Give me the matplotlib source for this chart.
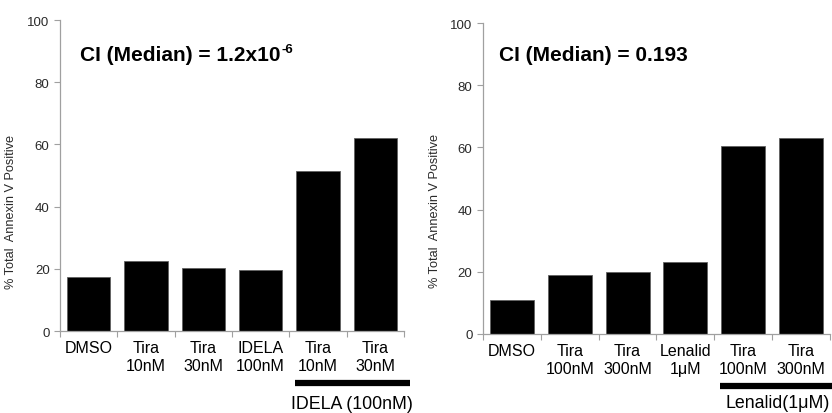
import matplotlib
matplotlib.use("Agg")
import matplotlib.pyplot as plt
import matplotlib.transforms as mtransforms

plt.rcParams["font.family"] = ["Liberation Sans", "DejaVu Sans"]

# Left panel: Tira + IDELA
left_labels = ["DMSO", "Tira\n10nM", "Tira\n30nM", "IDELA\n100nM", "Tira\n10nM", "Tira\n30nM"]
left_values = [17.5, 22.5, 20.2, 19.5, 51.5, 62.0]
left_title = "CI (Median) = 1.2x10"
left_sup = "-6"
left_group = "IDELA (100nM)"

# Right panel: Tira + Lenalidomide
right_labels = ["DMSO", "Tira\n100nM", "Tira\n300nM", "Lenalid\n1\u03bcM", "Tira\n100nM", "Tira\n300nM"]
right_values = [11.0, 19.0, 20.0, 23.0, 60.5, 63.0]
right_title = "CI (Median) = 0.193"
right_sup = None
right_group = "Lenalid(1\u03bcM)"

YLABEL = "% Total  Annexin V Positive"
SPINE = "#a0a0a0"

fig = plt.figure(figsize=(8.32, 4.14), dpi=100)
ax_l = fig.add_axes([0.0721, 0.198, 0.4135, 0.751])
ax_r = fig.add_axes([0.5805, 0.191, 0.417, 0.751])


def draw_panel(ax, labels, values, title, sup, group, ylab_xy, title_xy, line_x, group_y):
    x = list(range(len(values)))
    ax.bar(x, values, width=0.76, color="black", edgecolor="#606060", linewidth=0.6)
    ax.set_xlim(-0.5, len(values) - 0.5)
    ax.set_ylim(0, 100)
    ax.set_yticks([0, 20, 40, 60, 80, 100])
    ax.tick_params(axis="y", labelsize=9.5, colors=SPINE, labelcolor="#2a2a2a",
                   length=4, width=0.8)
    ax.set_xticks(x)
    ax.set_xticklabels(labels, fontsize=11.5, linespacing=1.25)
    ax.tick_params(axis="x", which="major", length=0, pad=6.5)
    ax.set_xticks([i - 0.5 for i in range(len(values) + 1)], minor=True)
    ax.tick_params(axis="x", which="minor", length=4, width=0.8, colors=SPINE)
    for s in ("top", "right"):
        ax.spines[s].set_visible(False)
    for s in ("left", "bottom"):
        ax.spines[s].set_color(SPINE)
        ax.spines[s].set_linewidth(0.9)
    ax.set_ylabel(YLABEL, fontsize=9.2, color="#2a2a2a")
    ax.yaxis.set_label_coords(*ylab_xy)
    t = ax.text(title_xy[0], title_xy[1], title, transform=ax.transAxes,
                fontsize=15, fontweight="bold", ha="left", va="center")
    if sup:
        ax.annotate(sup, xy=(1.0, 0.78), xycoords=t, xytext=(1, 0),
                    textcoords="offset points", fontsize=9.5, fontweight="bold",
                    ha="left", va="center")
    trans = mtransforms.blended_transform_factory(ax.transData, ax.transAxes)
    ax.plot(line_x, [-0.167, -0.167], color="black", linewidth=4.5,
            transform=trans, clip_on=False, solid_capstyle="butt")
    ax.text(4.6, group_y, group, transform=trans, fontsize=12.8,
            ha="center", va="center")


draw_panel(ax_l, left_labels, left_values, left_title, left_sup, left_group,
           (-0.125, 0.386), (0.058, 0.89), [3.6, 5.6], -0.232)
draw_panel(ax_r, right_labels, right_values, right_title, right_sup, right_group,
           (-0.121, 0.40), (0.046, 0.90), [3.6, 5.7], -0.222)

fig.savefig("out.png", dpi=100)
